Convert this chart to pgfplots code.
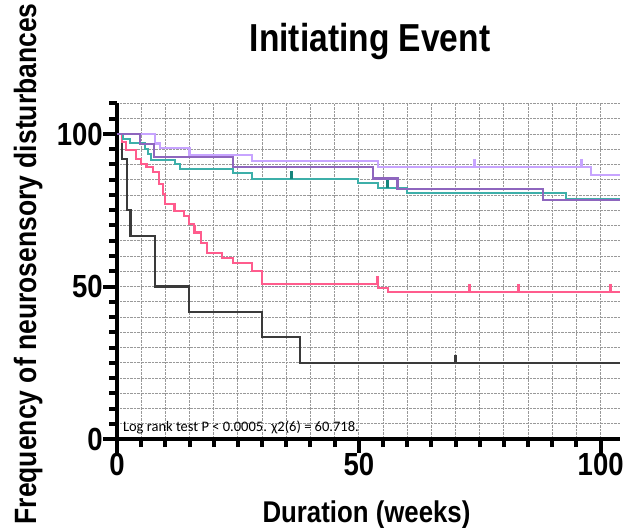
\documentclass[border=0pt]{standalone}
\usepackage{fontspec}
\setmainfont{Liberation Sans}
\newfontfamily\prism[FakeStretch=0.86]{Liberation Sans}
\newfontfamily\calib{Carlito}
\usepackage{pgfplots}
\pgfplotsset{compat=1.18}
\definecolor{kmblack}{HTML}{3A3A3A}
\definecolor{kmpink}{HTML}{FF5C8D}
\definecolor{kmteal}{HTML}{3DAFA9}
\definecolor{kmtealdark}{HTML}{16857C}
\definecolor{kmpurple}{HTML}{8E66BE}
\definecolor{kmlav}{HTML}{C7A4FF}
\begin{document}
\begin{tikzpicture}
\begin{axis}[
  at={(0,0)}, anchor=south west,
  scale only axis, width=503bp, height=335.5bp,
  xmin=0, xmax=104, ymin=0, ymax=110,
  axis lines*=left,
  axis line style={line width=3.5bp, black},
  xtick={0,50,100}, ytick={0,50,100},
  minor xtick={5,10,...,100},
  minor ytick={5,10,...,110},
  tick align=outside,
  major tick length=14bp, minor tick length=8bp,
  tick style={black, line width=4bp},
  grid=both,
  major grid style={densely dotted, black!40, line width=0.9bp},
  minor grid style={densely dotted, black!40, line width=0.9bp},
  /pgf/number format/assume math mode=true,
  ticklabel style={font=\prism\bfseries\fontsize{32bp}{32bp}\selectfont, inner sep=0pt},
  title={Initiating Event},
  title style={at={(axis description cs:0.503,1.137)}, anchor=base, inner sep=0pt,
    font=\prism\bfseries\fontsize{39bp}{39bp}\selectfont},
  xlabel={Duration (weeks)},
  xlabel style={at={(axis description cs:0.496,-0.250)}, anchor=base, inner sep=0pt,
    font=\prism\bfseries\fontsize{30bp}{30bp}\selectfont},
  ylabel={Frequency of neurosensory disturbances},
  ylabel style={at={(axis description cs:-0.161,0.522)}, anchor=base, inner sep=0pt,
    font=\prism\bfseries\fontsize{30.8bp}{30.8bp}\selectfont},
  clip=false,
]
% black
\addplot[const plot, kmblack, line width=2.1bp] coordinates {
 (0,100) (1.0,91.7) (2.0,75) (2.8,66.7) (7.9,50) (14.9,41.7) (29.9,33.3) (37.9,25) (104,25)};
\addplot[only marks, mark=|, mark size=4bp, kmblack, mark options={yshift=4bp, line width=3bp}] coordinates {(70,25)};
% pink
\addplot[const plot, kmpink, line width=2.1bp] coordinates {
 (0,100) (1.1,97.4) (1.8,94.7) (4.0,91.9) (5.0,90.3) (6.1,89.2) (7.5,87.5) (8.6,83.6)
 (9.5,80.4) (10.0,77) (11.8,74.8) (13.9,73.1) (14.9,70.5) (15.9,67.7) (17.3,64.4)
 (18.7,61.1) (21.8,59.3) (23.9,57.8) (27.9,55.1) (30,50.9) (53.9,49.4) (56,48.2) (104,48.2)};
\addplot[only marks, mark=|, mark size=4bp, kmpink, mark options={yshift=4bp, line width=3bp}] coordinates {
 (11.8,74.8) (16,67.7) (53.8,50.9) (72.9,48.2) (83,48.2) (102,48.2)};
% lavender
\addplot[const plot, kmlav, line width=2.1bp] coordinates {
 (0,100) (7.8,96.9) (8.8,95.3) (15,93.2) (28,91.0) (53.9,89.2) (98,86.7) (104,86.7)};
\addplot[only marks, mark=|, mark size=4bp, kmlav, mark options={yshift=4bp, line width=3bp}] coordinates {
 (73.9,89.2) (96,89.2)};
% teal
\addplot[const plot, kmteal, line width=2.1bp] coordinates {
 (0,100) (1.2,98.5) (2.6,97.0) (5.7,95.2) (6.4,93.5) (7.1,91.4) (11.9,90.3) (13,88.6)
 (24,87.3) (28,85.2) (49.8,83.9) (53.9,82.3) (60,80.8) (92.9,78.8) (104,78.8)};
\addplot[only marks, mark=|, mark size=4bp, kmtealdark, mark options={yshift=4bp, line width=3bp}] coordinates {
 (36,85.2) (56,82.3)};
% purple
\addplot[const plot, kmpurple, line width=2.1bp] coordinates {
 (0,100) (4.7,96.7) (7.7,92.4) (24,89.1) (52.9,85.4) (58,82.0) (88.1,78.5) (104,78.5)};
\node[anchor=base west, inner sep=0pt, font=\calib\fontsize{14.5bp}{14.5bp}\selectfont]
  at (axis cs:1.2,2.3) {Log rank test P < 0.0005. χ2(6) = 60.718.};
\end{axis}
\pgfresetboundingbox
\useasboundingbox (-117bp,-89bp) rectangle (509bp,439bp);
\end{tikzpicture}
\end{document}
